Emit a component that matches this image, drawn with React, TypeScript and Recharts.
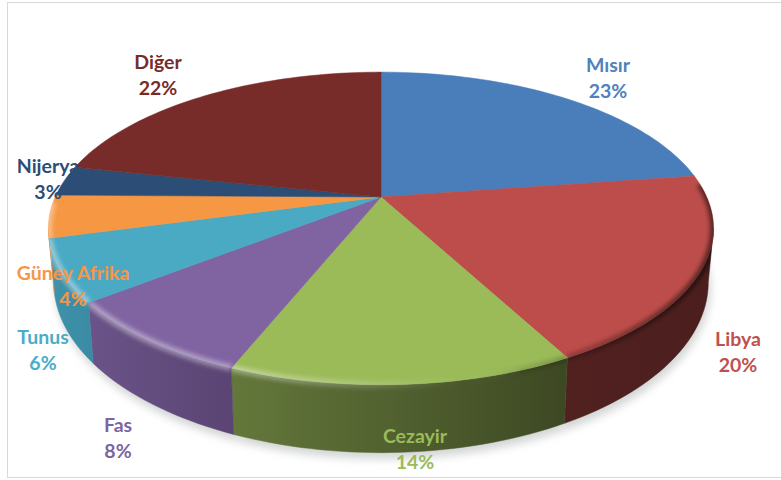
import React from "react";
import { PieChart, Pie } from "recharts";

const countries = ["Mısır", "Libya", "Cezayir", "Fas", "Tunus", "Güney Afrika", "Nijerya", "Diğer"];
const shares = [22.7, 19.5, 13.9, 8.3, 6.4, 4.4, 3.1, 21.7];
const faceColors = ["#4a7ebb", "#bc4d4a", "#9bbb59", "#8064a2", "#4aa9c3", "#f59743", "#2c4d75", "#772c2a"];
const labelColors = ["#4f81bd", "#c0504d", "#9bbb59", "#8064a2", "#4bacc6", "#f79646", "#2c4d75", "#772c2a"];
const wallLeft = ["#3a5f8c", "#512120", "#64783b", "#6a5388", "#3f93ac", "#e08a40", "#213a58", "#5a2120"];
const wallRight = ["#3a5f8c", "#4b1e1d", "#3d4823", "#5a4473", "#3a8aa2", "#d9853d", "#213a58", "#5a2120"];

const data = countries.map((name, i) => ({ name, value: shares[i] }));

// perspective model of the tilted disc
const STRETCH_X = 2.172;
const STRETCH_Y = 1.0;
const TILT = 0.201;
const WALL_SCALE_X = 0.984;
const WALL_SCALE_Y = 1.09;
const WALL_DROP = 51;
const VISIBLE_FROM = 101.6;
const VISIBLE_TO = 258.4;
const rad = Math.PI / 180;

// text layout: centre x, first-line baseline
const labelSpots: [number, number][] = [
  [608, 72], [738, 346], [415, 443], [118, 432], [43, 344], [73, 280], [48, 173], [158, 69],
];
const LINE_GAP = 26;

type P = [number, number];

function project(cx: number, cy: number, r: number, t: number, bottom = false): P {
  const u = Math.sin(t * rad);
  const v = Math.cos(t * rad);
  const w = 1 + TILT * v;
  const sx = bottom ? WALL_SCALE_X : 1;
  const sy = bottom ? WALL_SCALE_Y : 1;
  const d = bottom ? WALL_DROP : 0;
  return [cx + (sx * STRETCH_X * r * u) / w, cy + d - (sy * STRETCH_Y * r * v) / w];
}

function arc(cx: number, cy: number, r: number, a: number, b: number, bottom = false): P[] {
  const n = Math.max(2, Math.ceil(Math.abs(b - a) / 1.5));
  const pts: P[] = [];
  for (let i = 0; i <= n; i++) pts.push(project(cx, cy, r, a + ((b - a) * i) / n, bottom));
  return pts;
}

const toPath = (pts: P[], close = true) =>
  "M" + pts.map((p) => `${p[0].toFixed(2)},${p[1].toFixed(2)}`).join("L") + (close ? "Z" : "");

const angles = (props: any): [number, number] => [90 - props.startAngle, 90 - props.endAngle];

function ShadowShape(props: any) {
  const { cx, cy, outerRadius, index } = props;
  const [a, b] = angles(props);
  const pts: P[] = [[cx, cy + WALL_DROP], ...arc(cx, cy, outerRadius, a, b, true)];
  return (
    <g>
      <defs>
        <filter id={`shadow-${index}`} filterUnits="userSpaceOnUse" x="0" y="0" width="781" height="480">
          <feGaussianBlur stdDeviation="4" />
        </filter>
      </defs>
      <path d={toPath(pts)} fill="#d4d6d6" stroke="#d4d6d6" transform="translate(2,6)" filter={`url(#shadow-${index})`} />
    </g>
  );
}

function WallShape(props: any) {
  const { cx, cy, outerRadius, index } = props;
  const [a0, b0] = angles(props);
  const a = Math.max(a0, VISIBLE_FROM);
  const b = Math.min(b0, VISIBLE_TO);
  if (b <= a) return <g />;
  const pts = [...arc(cx, cy, outerRadius, a, b), ...arc(cx, cy, outerRadius, b, a, true)];
  const id = `wall-${index}`;
  return (
    <g>
      <defs>
        <linearGradient id={id} x1="0" y1="0" x2="1" y2="0">
          <stop offset="0" stopColor={wallLeft[index]} />
          <stop offset="1" stopColor={wallRight[index]} />
        </linearGradient>
      </defs>
      <path d={toPath(pts)} fill={`url(#${id})`} stroke={`url(#${id})`} strokeWidth={0.5} />
    </g>
  );
}

function FaceShape(props: any) {
  const { cx, cy, outerRadius, index, fill } = props;
  const [a, b] = angles(props);
  const face: P[] = [[cx, cy], ...arc(cx, cy, outerRadius, a, b)];
  const ra = Math.max(a, 85);
  const rb = Math.min(b, 268);
  let bevel = null;
  if (rb > ra) {
    const rim = arc(cx, cy, outerRadius, ra, rb);
    const wa = Math.max(a, VISIBLE_FROM);
    const wb = Math.min(b, VISIBLE_TO);
    const union =
      wb > wa
        ? toPath(face) + toPath([...arc(cx, cy, outerRadius, wa, wb), ...arc(cx, cy, outerRadius, wb, wa, true)])
        : toPath(face);
    bevel = (
      <g clipPath={`url(#clip-${index})`}>
        <defs>
          <clipPath id={`clip-${index}`}>
            <path d={union} />
          </clipPath>
          <linearGradient id={`hi-${index}`} gradientUnits="userSpaceOnUse" x1="40" y1="0" x2="720" y2="0">
            <stop offset="0" stopColor="#ffffff" stopOpacity={0.38} />
            <stop offset="0.3" stopColor="#ffffff" stopOpacity={0.36} />
            <stop offset="0.5" stopColor="#ffffff" stopOpacity={0.14} />
            <stop offset="0.62" stopColor="#ffffff" stopOpacity={0} />
            <stop offset="0.72" stopColor="#000000" stopOpacity={0.12} />
            <stop offset="1" stopColor="#000000" stopOpacity={0.55} />
          </linearGradient>
          <filter id={`soft-${index}`} filterUnits="userSpaceOnUse" x="0" y="0" width="781" height="480">
            <feGaussianBlur stdDeviation="2" />
          </filter>
        </defs>
        <path
          d={toPath(rim, false)}
          fill="none"
          stroke={`url(#hi-${index})`}
          strokeWidth={7}
          filter={`url(#soft-${index})`}
        />
      </g>
    );
  }
  return (
    <g>
      <path d={toPath(face)} fill={fill} stroke={fill} strokeWidth={0.5} />
      {bevel}
    </g>
  );
}

function renderLabel(props: any) {
  const { index } = props;
  const [x, y] = labelSpots[index];
  return (
    <text
      key={index}
      textAnchor="middle"
      fontFamily="Lato, sans-serif"
      fontWeight={700}
      fontSize={19.5}
      fill={labelColors[index]}
    >
      <tspan x={x} y={y}>{countries[index]}</tspan>
      <tspan x={x} y={y + LINE_GAP}>{`${Math.round(shares[index])}%`}</tspan>
    </text>
  );
}

const pieProps = {
  data,
  dataKey: "value",
  nameKey: "name",
  cx: 381,
  cy: 197,
  innerRadius: 0,
  outerRadius: 150,
  startAngle: 90,
  endAngle: -270,
  stroke: "none",
  isAnimationActive: false,
};

export default function App() {
  const cells = data.map((d, i) => ({ ...d, fill: faceColors[i] }));
  return (
    <div style={{ position: "absolute", left: 0, top: 0, width: 781, height: 480, background: "#fff", overflow: "hidden" }}>
      <div
        style={{
          position: "absolute",
          left: 7,
          top: 2,
          width: 790,
          height: 476,
          border: "1.5px solid #d9d9d9",
          boxSizing: "border-box",
        }}
      />
      <div style={{ position: "absolute", left: 0, top: 0 }}>
        <PieChart width={781} height={480} margin={{ top: 0, right: 0, bottom: 0, left: 0 }}>
          <Pie {...pieProps} shape={ShadowShape} />
          <Pie {...pieProps} shape={WallShape} />
          <Pie {...pieProps} data={cells} shape={FaceShape} label={renderLabel} labelLine={false} />
        </PieChart>
      </div>
    </div>
  );
}
